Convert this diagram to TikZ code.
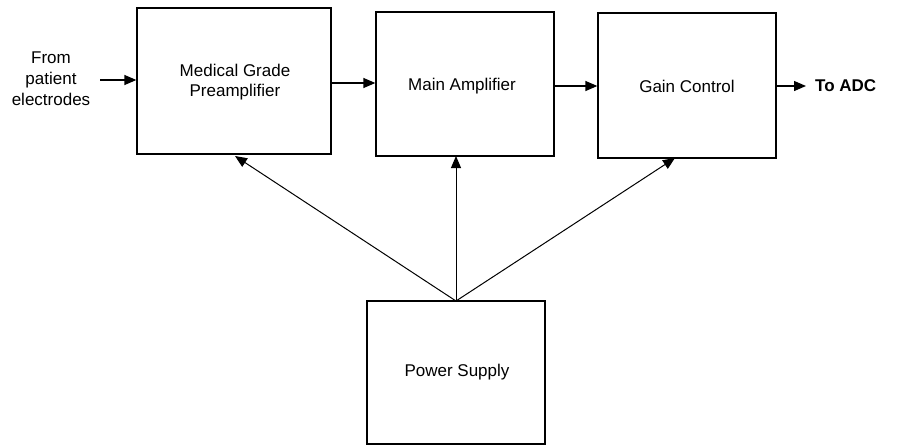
\documentclass[tikz,border=0pt]{standalone}
\usepackage{fontspec}
\setmainfont{Liberation Sans}
\usetikzlibrary{arrows.meta}
\begin{document}
\begin{tikzpicture}[x=1pt,y=-1pt,
  lbl/.style={font=\fontsize{17}{20.5}\selectfont,align=center,inner sep=0pt},
  arr/.style={line width=1.3pt,-{Triangle[length=12pt,width=10pt]}},
  conn/.style={line width=1pt,-{Triangle[length=12pt,width=10pt]}}]
\useasboundingbox (0,0) rectangle (924,447);
% boxes
\node[draw,line width=1.3pt,minimum width=194pt,minimum height=146pt,inner sep=0pt] (pre) at (234,81) {};
\node[draw,line width=1.3pt,minimum width=178pt,minimum height=144pt,inner sep=0pt] (main) at (465,84) {};
\node[draw,line width=1.3pt,minimum width=178pt,minimum height=145pt,inner sep=0pt] (gain) at (687,85.5) {};
\node[draw,line width=1.3pt,minimum width=178pt,minimum height=143pt,inner sep=0pt] (pwr) at (456,372.5) {};
% labels
\node[lbl] at (235,82) {Medical Grade\\Preamplifier};
\node[lbl] at (462,86) {Main Amplifier};
\node[lbl] at (687,86) {Gain Control};
\node[lbl] at (457,372) {Power Supply};
\node[lbl,font=\fontsize{17}{21}\selectfont] (src) at (51,79) {From\\patient\\electrodes};
\node[lbl,font=\fontsize{17}{20}\selectfont\bfseries,anchor=west] (adc) at (815,86) {To ADC};
% connectors
\coordinate (in) at (100,80);
\coordinate (out) at (806,86);
\draw[arr] (in) -- (pre.west |- in);
\draw[arr] (pre.east |- 0,83) -- (main.west |- 0,83);
\draw[arr] (main.east |- 0,86) -- (gain.west |- 0,86);
\draw[arr] (gain.east |- out) -- (out);
\coordinate (ps) at (456,301);
\draw[conn] (ps) -- (235,156);
\draw[conn] (ps) -- (456,156);
\draw[conn] (ps) -- (675,158);
\end{tikzpicture}
\end{document}
